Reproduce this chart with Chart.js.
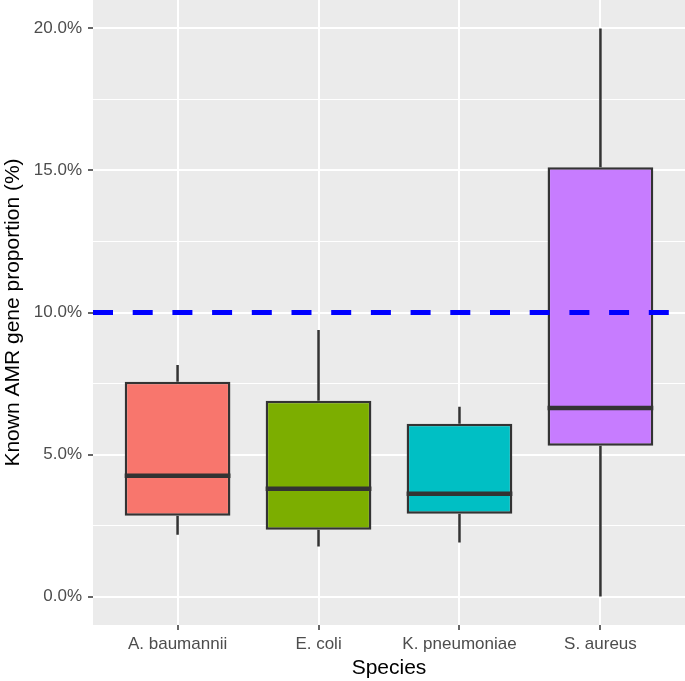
<!DOCTYPE html>
<html>
<head>
<meta charset="utf-8">
<script src="https://cdn.jsdelivr.net/npm/chart.js@4.4.1/dist/chart.umd.min.js"></script>
<style>
  html, body { margin: 0; padding: 0; background: #fff; }
  canvas { display: block; }
</style>
</head>
<body>
<canvas id="boxChart" width="685" height="681"></canvas>
<script>
const species = ["A. baumannii", "E. coli", "K. pneumoniae", "S. aureus"];
const whiskerLow = [2.18, 1.76, 1.9, 0.0];
const q1 = [2.85, 2.35, 2.92, 5.31];
const median = [4.25, 3.8, 3.62, 6.64];
const q3 = [7.56, 6.89, 6.08, 15.11];
const whiskerHigh = [8.15, 9.38, 6.68, 20.0];
const boxColors = ["#F8766D", "#7CAE00", "#00BFC4", "#C77CFF"];
const yTicks = [0, 2.5, 5, 7.5, 10, 12.5, 15, 17.5, 20];
const threshold = 10;

const ctx = document.getElementById("boxChart").getContext("2d");
const ink = "#333333";
const font = "'Liberation Sans', Arial, sans-serif";

const boxPlugin = {
  id: "boxPlugin",
  beforeDraw(chart) {
    const a = chart.chartArea;
    const c = chart.ctx;
    c.save();
    c.fillStyle = "#EBEBEB";
    c.fillRect(a.left, a.top, a.right - a.left, a.bottom - a.top);
    c.restore();
  },
  beforeDatasetsDraw(chart) {
    const x = chart.scales.x, y = chart.scales.y;
    const c = chart.ctx;
    c.save();
    c.strokeStyle = ink;
    c.lineWidth = 2.5;
    species.forEach((s, i) => {
      const px = x.getPixelForValue(i + 1);
      c.beginPath();
      c.moveTo(px, y.getPixelForValue(q3[i]));
      c.lineTo(px, y.getPixelForValue(whiskerHigh[i]));
      c.moveTo(px, y.getPixelForValue(q1[i]));
      c.lineTo(px, y.getPixelForValue(whiskerLow[i]));
      c.stroke();
    });
    c.restore();
  },
  afterDatasetsDraw(chart) {
    const y = chart.scales.y;
    const c = chart.ctx;
    const bars = chart.getDatasetMeta(0).data;
    c.save();
    c.strokeStyle = ink;
    c.lineWidth = 4.5;
    bars.forEach((bar, i) => {
      const py = y.getPixelForValue(median[i]);
      c.beginPath();
      c.moveTo(bar.x - bar.width / 2, py);
      c.lineTo(bar.x + bar.width / 2, py);
      c.stroke();
    });
    // dashed reference line
    const a = chart.chartArea;
    const ty = y.getPixelForValue(threshold);
    c.strokeStyle = "#0000FF";
    c.lineWidth = 5;
    c.setLineDash([20, 19.7]);
    c.beginPath();
    c.moveTo(a.left, ty);
    c.lineTo(a.right, ty);
    c.stroke();
    c.restore();
  }
};

new Chart(ctx, {
  type: "bar",
  data: {
    datasets: [{
      data: species.map((s, i) => ({ x: i + 1, y: [q1[i], q3[i]] })),
      backgroundColor: boxColors,
      borderColor: ink,
      borderWidth: 2.5,
      borderSkipped: false,
      barPercentage: 0.75,
      categoryPercentage: 1
    }]
  },
  options: {
    responsive: false,
    animation: false,
    layout: { padding: 0 },
    plugins: { legend: { display: false }, tooltip: { enabled: false } },
    scales: {
      x: {
        type: "linear",
        offset: false,
        min: 0.4,
        max: 4.6,
        afterBuildTicks: (scale) => { scale.ticks = species.map((s, i) => ({ value: i + 1 })); },
        afterFit: (scale) => { scale.height = 56; scale.paddingLeft = 0; scale.paddingRight = 0; },
        ticks: {
          autoSkip: false,
          maxRotation: 0,
          padding: 4,
          color: "#4D4D4D",
          font: { family: font, size: 17 },
          callback: (v) => species[Math.round(v) - 1] || ""
        },
        grid: { offset: false, color: "#FFFFFF", lineWidth: 2, tickColor: ink, tickLength: 5, tickWidth: 1.5 },
        border: { display: false },
        title: {
          display: true,
          text: "Species",
          color: "#000000",
          padding: { top: 0, bottom: 0 },
          font: { family: font, size: 21 }
        }
      },
      y: {
        min: -1,
        max: 21,
        afterBuildTicks: (scale) => { scale.ticks = yTicks.map(v => ({ value: v })); },
        afterFit: (scale) => { scale.width = 93; scale.paddingTop = 0; scale.paddingBottom = 0; },
        ticks: {
          autoSkip: false,
          padding: 6,
          color: "#4D4D4D",
          font: { family: font, size: 17 },
          callback: (v) => (v % 5 === 0 ? v.toFixed(1) + "%" : "")
        },
        grid: {
          color: "#FFFFFF",
          lineWidth: (c) => (c.tick && c.tick.value % 5 === 0 ? 2 : 1),
          tickColor: (c) => (c.tick && c.tick.value % 5 === 0 ? ink : "rgba(0,0,0,0)"),
          tickLength: 5,
          tickWidth: 1.5
        },
        border: { display: false },
        title: {
          display: true,
          text: "Known AMR gene proportion (%)",
          color: "#000000",
          padding: { top: 1, bottom: 0 },
          font: { family: font, size: 21 }
        }
      }
    }
  },
  plugins: [boxPlugin]
});
</script>
</body>
</html>
